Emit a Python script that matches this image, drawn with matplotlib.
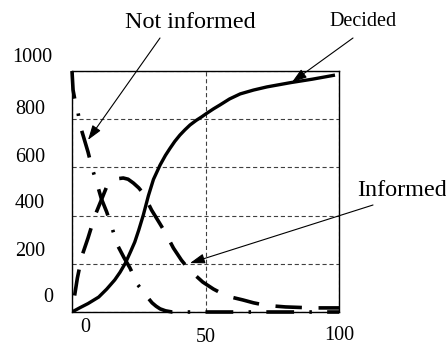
import matplotlib
matplotlib.use("Agg")
import matplotlib.pyplot as plt
from matplotlib.transforms import ScaledTranslation, blended_transform_factory

plt.rcParams['font.family'] = ['Liberation Serif', 'DejaVu Serif']
plt.rcParams['lines.scale_dashes'] = False

# curves
t_decided = [0, 3, 6, 10, 13, 16, 18, 20, 22, 23.5, 25, 26.7, 28.6, 30.5, 33, 35,
             36.7, 38.5, 40.4, 42.3, 44.2, 46.5, 48.6, 50.4, 53, 55.4, 59, 63, 68,
             73, 78, 82, 90, 98.5]
decided = [0, 18, 35, 62, 95, 133, 165, 203, 252, 290, 340, 402, 482, 550, 610, 650,
           679, 708, 734, 756, 776, 795, 810, 824, 843, 859, 884, 905, 921,
           934, 944, 952, 966, 983]

t_not = [0, 0.4, 1, 2, 3, 4.5, 6, 7.5, 9.5, 11, 13, 15, 17, 19.5, 21.7, 24.7, 27,
         28.5, 30, 31.5, 33, 35, 37.5, 45, 60, 80, 100]
not_informed = [1000, 921, 885, 846, 776, 720, 664, 598, 527, 470, 415, 349, 278, 225,
                183, 112, 80, 58, 38, 24, 13, 5, 0, 0, 0, 0, 0]

t_inf = [0, 1, 2, 3.7, 6, 8.6, 11, 13, 15.4, 17, 19.2, 21, 23, 25, 26.7, 29.8, 33, 35,
         38, 41, 44, 49, 53, 58, 64, 68, 73, 80, 90, 100]
informed = [0, 70, 140, 232, 307, 400, 465, 520, 544, 553, 556, 551, 535, 515, 492, 423,
            365, 328, 265, 215, 174, 124, 95, 66, 50, 38, 27, 21, 17, 17]

ytick_vals = [0, 200, 400, 600, 800, 1000]
xtick_vals = [0, 50, 100]

W, H = 446, 345
fig = plt.figure(figsize=(W / 100, H / 100), dpi=100)
ax = fig.add_axes([72 / W, 1 - 312 / H, (339 - 72) / W, (312 - 71) / H])

ax.plot(t_decided, decided, color='k', lw=2.4, solid_capstyle='butt',
        solid_joinstyle='round')
ax.plot(t_not, not_informed, color='k', lw=2.6,
        linestyle=(0, (20, 11, 1.8, 11)), dash_capstyle='butt', clip_on=False)
ax.plot(t_inf, informed, color='k', lw=2.6,
        linestyle=(19, (19, 12)), dash_capstyle='butt', clip_on=False)

ax.set_xlim(0, 100)
ax.set_ylim(0, 1000)
ax.set_xticks(xtick_vals)
ax.set_yticks(ytick_vals)
ax.tick_params(length=0, labelbottom=False, labelleft=False)
ax.grid(True, color='0.25', lw=0.8, dashes=(3, 2))
for s in ax.spines.values():
    s.set_linewidth(1.0)

# tick labels, nudged the way the original has them (pixels)
ylab_dx = [8, 0, 0, 0, 0, 7]
ylab_dy = [15, 12, 12, 10, 10, 13]
ytr = blended_transform_factory(ax.transAxes, ax.transData)
for v, dx, dy in zip(ytick_vals, ylab_dx, ylab_dy):
    off = ScaledTranslation(dx / 100, dy / 100, fig.dpi_scale_trans)
    ax.text(-27 / 267, v, str(v), transform=ytr + off, ha='right', va='center',
            fontsize=14.5, clip_on=False)

xlab_dx = [13, 0, 0]
xlab_dy = [16, 25, 23]
xtr = blended_transform_factory(ax.transData, ax.transAxes)
for v, dx, dy in zip(xtick_vals, xlab_dx, xlab_dy):
    off = ScaledTranslation(dx / 100, -dy / 100, fig.dpi_scale_trans)
    ax.text(v, 0, str(v), transform=xtr + off, ha='center', va='center',
            fontsize=14.5, clip_on=False)

arrow = dict(arrowstyle='-|>,head_length=0.6,head_width=0.2', color='k', lw=0.8,
             mutation_scale=15, shrinkA=0, shrinkB=0)
ax.annotate('', xy=(6.0, 714), xytext=(160, H - 38), textcoords='figure pixels',
            arrowprops=arrow, annotation_clip=False)
ax.annotate('', xy=(82.4, 954), xytext=(353, H - 38), textcoords='figure pixels',
            arrowprops=arrow, annotation_clip=False)
ax.annotate('', xy=(44.2, 203), xytext=(373, H - 205), textcoords='figure pixels',
            arrowprops=arrow, annotation_clip=False)

fig.text(190 / W, 1 - 22 / H, 'Not informed', ha='center', va='center', fontsize=17.4)
fig.text(363 / W, 1 - 21 / H, 'Decided', ha='center', va='center', fontsize=14.5)
fig.text(402 / W, 1 - 191 / H, 'Informed', ha='center', va='center', fontsize=17.4)

fig.savefig('out.png', dpi=100)
